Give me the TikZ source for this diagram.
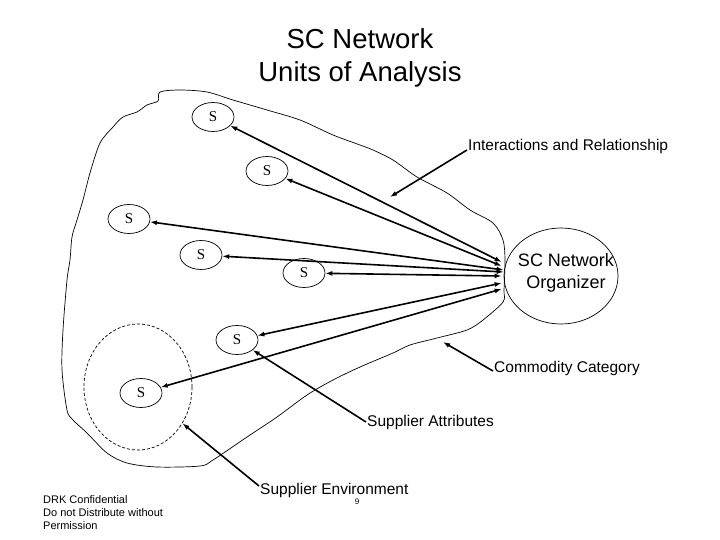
\documentclass[tikz,border=0pt]{standalone}
\usepackage{fontspec}
\setmainfont{Liberation Sans}
\newfontfamily\sfont{Liberation Serif}
\usetikzlibrary{shapes.geometric,arrows.meta}
\begin{document}
\begin{tikzpicture}[x=1pt,y=-1pt,
  snode/.style={ellipse,draw,line width=0.7pt,minimum width=42pt,minimum height=29pt,inner sep=0pt,font=\sfont\fontsize{15}{15}\selectfont},
  link/.style={line width=1.6pt,{Latex[length=7pt,width=5pt]}-{Latex[length=7pt,width=5pt]}},
  pointer/.style={line width=1.6pt,-{Latex[length=7pt,width=5pt]}},
  lbl/.style={anchor=west,inner sep=1pt,font=\fontsize{15.5}{18}\selectfont}]
\useasboundingbox (0,0) rectangle (720,540);

% title
\node[align=center,font=\fontsize{27.5}{33}\selectfont] (title) at (360,58) {SC Network\\Units of Analysis};

% outline blob (commodity category)
\draw[line width=0.7pt] plot[smooth cycle,tension=0.5] coordinates {
 (160,92) (158,101) (147,105) (137,112) (123,117) (113,127) (100,143) (90,173)
 (83,200) (77,220) (72,237) (70,260) (67,280) (63,330) (62,370) (67,410)
 (73,420) (87,433) (107,453) (127,463) (157,467) (200,466) (213,460) (247,437)
 (277,417) (307,395) (333,380) (360,367) (393,353) (410,345) (437,338) (467,330)
 (483,320) (503,302) (504,290) (505,260) (503,240) (493,223) (470,210) (447,193)
 (417,177) (393,160) (373,150) (360,145) (333,135) (300,120) (267,110) (233,100)
 (207,92) (180,90)};

% supplier environment
\node[ellipse,draw,line width=0.7pt,dash pattern=on 3pt off 2pt,minimum width=108pt,minimum height=126pt,inner sep=0pt] (env) at (138,387) {};

% suppliers
\node[snode] (s1) at (213,117) {S};
\node[snode] (s2) at (267,171) {S};
\node[snode] (s3) at (129,219) {S};
\node[snode] (s4) at (201,255) {S};
\node[snode] (s5) at (304,273) {S};
\node[snode] (s6) at (237,340) {S};
\node[snode] (s7) at (141,393) {S};

% organizer
\node[ellipse,draw,line width=0.7pt,minimum width=114pt,minimum height=96pt,inner sep=0pt] (org) at (561,276) {};
\node[align=center,inner sep=0pt,font=\fontsize{18}{22}\selectfont] (orgtxt) at (566,273) {SC Network\\Organizer};

% links
\draw[link] (s1) -- ([xshift=-2pt,yshift=14pt]org.west);
\draw[link] (s2) -- ([xshift=-2pt,yshift=10pt]org.west);
\draw[link] (s3) -- ([xshift=0pt,yshift=6pt]org.west);
\draw[link] (s4) -- ([xshift=0pt,yshift=4pt]org.west);
\draw[link] (s5) -- ([xshift=-2pt,yshift=0pt]org.west);
\draw[link] (s6) -- ([xshift=-2pt,yshift=-7pt]org.west);
\draw[link] (s7) -- ([xshift=-2pt,yshift=-13pt]org.west);

% labels
\node[lbl] (ir) at (467,146) {Interactions and Relationship};
\coordinate (irt) at (390,197);
\draw[pointer] ([yshift=-4pt]ir.west) -- (irt);

\node[lbl] (cc) at (493,368) {Commodity Category};
\coordinate (cct) at (443,342);
\draw[pointer] ([yshift=-3pt]cc.west) -- (cct);

\node[lbl] (sa) at (366,422) {Supplier Attributes};
\draw[pointer] (sa.west) -- (s6);

\node[lbl] (se) at (259,490) {Supplier Environment};
\draw[pointer] ([yshift=4pt]se.west) -- (env);

\node[font=\fontsize{8}{8}\selectfont,inner sep=0pt] (pg) at (357,502) {9};

\node[anchor=north west,align=left,inner sep=0pt,font=\fontsize{11}{13}\selectfont] (drk) at (43,495) {DRK Confidential\\Do not Distribute without\\Permission};
\end{tikzpicture}
\end{document}
